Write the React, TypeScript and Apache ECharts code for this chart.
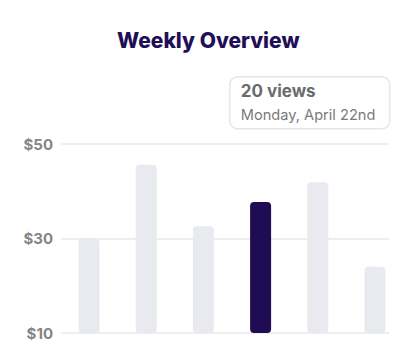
import React, { useEffect, useRef } from "react";
import * as echarts from "echarts";

const categories = ["Fri", "Sat", "Sun", "Mon", "Tue", "Wed"];
const values = [30, 45.6, 32.6, 37.7, 41.9, 24];
const highlightIndex = 3;
const yTicks = [10, 30, 50];
const titleText = "Weekly Overview";
const tooltipTitle = "20 views";
const tooltipSubtitle = "Monday, April 22nd";

export default function App() {
  const ref = useRef<HTMLDivElement>(null);
  useEffect(() => {
    if (!ref.current) return;
    const chart = echarts.init(ref.current, null, { renderer: "svg" });
    const yMin = yTicks[0];
    const yMax = yTicks[yTicks.length - 1];
    const interval = yTicks[1] - yTicks[0];
    chart.setOption({
      animation: false,
      backgroundColor: "#ffffff",
      title: {
        text: titleText,
        left: 112,
        top: 25,
        textStyle: {
          fontFamily: "Inter",
          fontWeight: 800,
          fontSize: 21,
          color: "#1f0f57",
        },
      },
      grid: [
        { left: 61, right: 31, top: 144, height: 189 },
        { left: 60.4, right: 16.4, top: 144, height: 189 },
      ],
      xAxis: [
        { type: "category", gridIndex: 0, data: categories, show: false },
        { type: "category", gridIndex: 1, data: categories, show: false },
      ],
      yAxis: [
        {
          type: "value",
          gridIndex: 0,
          min: yMin,
          max: yMax,
          interval,
          axisLine: { show: false },
          axisTick: { show: false },
          axisLabel: {
            margin: 8,
            formatter: (v: number) => "$" + v,
            fontFamily: "Inter",
            fontWeight: "bold",
            fontSize: 15,
            color: "#858585",
          },
          splitLine: { lineStyle: { color: "#eeeeee", width: 2 } },
        },
        {
          type: "value",
          gridIndex: 1,
          min: yMin,
          max: yMax,
          interval,
          show: false,
          splitLine: { show: false },
        },
      ],
      series: [
        {
          type: "bar",
          xAxisIndex: 0,
          yAxisIndex: 0,
          data: [],
        },
        {
          type: "bar",
          xAxisIndex: 1,
          yAxisIndex: 1,
          barWidth: 21,
          data: values.map((v, i) => ({
            value: v,
            itemStyle: {
              color: i === highlightIndex ? "#200c52" : "#e8eaef",
              borderRadius: 4,
            },
          })),
        },
      ],
      graphic: [
        {
          type: "group",
          left: 229,
          top: 76,
          children: [
            {
              type: "rect",
              shape: { x: 0, y: 0, width: 160, height: 52, r: 8 },
              style: { fill: "#ffffff", stroke: "#e6e6e6", lineWidth: 1.5 },
              z: 10,
            },
            {
              type: "text",
              x: 11,
              y: 6,
              style: {
                text: tooltipTitle,
                fontFamily: "Inter",
                fontWeight: "bold",
                fontSize: 17,
                fill: "#6b6b6b",
              },
              z: 11,
            },
            {
              type: "text",
              x: 11,
              y: 31,
              style: {
                text: tooltipSubtitle,
                fontFamily: "Inter",
                fontSize: 14.6,
                fill: "#7a7a7a",
              },
              z: 11,
            },
          ],
        },
      ],
    });
    return () => chart.dispose();
  }, []);
  return (
    <div
      ref={ref}
      style={{ position: "fixed", left: 0, top: 0, width: 420, height: 360 }}
    />
  );
}
